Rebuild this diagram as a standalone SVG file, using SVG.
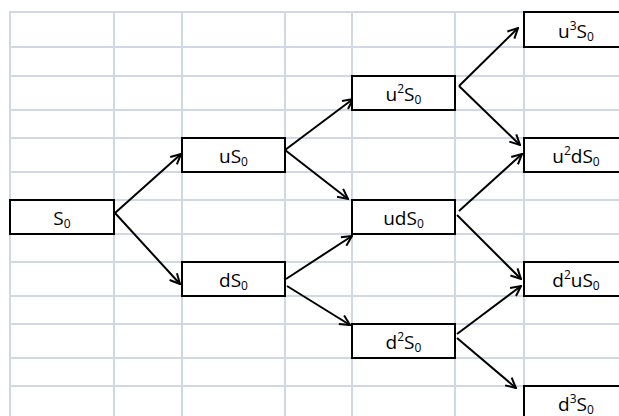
<svg xmlns="http://www.w3.org/2000/svg" width="619" height="416" viewBox="0 0 619 416">
<style>
.grid line{stroke:#D0D7E5;stroke-width:2}
.node rect{fill:#fff;stroke:#000;stroke-width:2}
.node text{font-family:"Open Sans","DejaVu Sans",sans-serif;font-size:19px;fill:#000;text-anchor:middle}
.sm{font-size:12px}
.conn line{stroke:#000;stroke-width:2;marker-end:url(#ah)}
</style>
<defs>
<marker id="ah" viewBox="0 0 12 12" refX="11" refY="6" markerWidth="12" markerHeight="12" markerUnits="userSpaceOnUse" orient="auto">
<path d="M1,1 L11,6 L1,11" fill="none" stroke="#000" stroke-width="2"/>
</marker>
</defs>
<rect width="619" height="416" fill="#fff"/>
<g class="grid">
<line x1="10" y1="12" x2="619" y2="12"/>
<line x1="10" y1="47" x2="619" y2="47"/>
<line x1="10" y1="76" x2="619" y2="76"/>
<line x1="10" y1="110" x2="619" y2="110"/>
<line x1="10" y1="138" x2="619" y2="138"/>
<line x1="10" y1="172" x2="619" y2="172"/>
<line x1="10" y1="200" x2="619" y2="200"/>
<line x1="10" y1="234" x2="619" y2="234"/>
<line x1="10" y1="262" x2="619" y2="262"/>
<line x1="10" y1="296" x2="619" y2="296"/>
<line x1="10" y1="324" x2="619" y2="324"/>
<line x1="10" y1="358" x2="619" y2="358"/>
<line x1="10" y1="386" x2="619" y2="386"/>
<line x1="10" y1="11" x2="10" y2="416"/>
<line x1="114" y1="11" x2="114" y2="416"/>
<line x1="182" y1="11" x2="182" y2="416"/>
<line x1="285" y1="11" x2="285" y2="416"/>
<line x1="352" y1="11" x2="352" y2="416"/>
<line x1="455" y1="11" x2="455" y2="416"/>
<line x1="524" y1="11" x2="524" y2="416"/>
</g>
<g class="conn">
<line x1="115" y1="213" x2="181" y2="154"/>
<line x1="115" y1="213" x2="180" y2="284"/>
<line x1="285" y1="150" x2="353" y2="99"/>
<line x1="285" y1="150" x2="348" y2="199"/>
<line x1="286" y1="279" x2="352" y2="236"/>
<line x1="287" y1="286" x2="350" y2="325"/>
<line x1="459" y1="86" x2="518" y2="28"/>
<line x1="459" y1="86" x2="520" y2="145"/>
<line x1="459" y1="211" x2="522" y2="154"/>
<line x1="457" y1="215" x2="521" y2="279"/>
<line x1="457" y1="334" x2="521" y2="286"/>
<line x1="457" y1="338" x2="516" y2="388"/>
</g>
<g id="n-s0" class="node"><rect x="10" y="200" width="104" height="34"/><text x="62" y="225">S<tspan class="sm" dy="3">0</tspan></text></g>
<g id="n-us0" class="node"><rect x="182" y="138" width="103" height="34"/><text x="233.5" y="163">uS<tspan class="sm" dy="3">0</tspan></text></g>
<g id="n-ds0" class="node"><rect x="182" y="262" width="103" height="34"/><text x="233.5" y="287">dS<tspan class="sm" dy="3">0</tspan></text></g>
<g id="n-u2s0" class="node"><rect x="352" y="76" width="103" height="34"/><text x="403.5" y="101">u<tspan class="sm" dy="-8">2</tspan><tspan dy="8">S</tspan><tspan class="sm" dy="3">0</tspan></text></g>
<g id="n-uds0" class="node"><rect x="352" y="200" width="103" height="34"/><text x="403.5" y="225">udS<tspan class="sm" dy="3">0</tspan></text></g>
<g id="n-d2s0" class="node"><rect x="352" y="324" width="103" height="34"/><text x="403.5" y="349">d<tspan class="sm" dy="-8">2</tspan><tspan dy="8">S</tspan><tspan class="sm" dy="3">0</tspan></text></g>
<g id="n-u3s0" class="node"><rect x="524" y="12" width="104" height="35"/><text x="576" y="38">u<tspan class="sm" dy="-8">3</tspan><tspan dy="8">S</tspan><tspan class="sm" dy="3">0</tspan></text></g>
<g id="n-u2ds0" class="node"><rect x="524" y="138" width="104" height="34"/><text x="576" y="163">u<tspan class="sm" dy="-8">2</tspan><tspan dy="8">dS</tspan><tspan class="sm" dy="3">0</tspan></text></g>
<g id="n-d2us0" class="node"><rect x="524" y="262" width="104" height="34"/><text x="576" y="287">d<tspan class="sm" dy="-8">2</tspan><tspan dy="8">uS</tspan><tspan class="sm" dy="3">0</tspan></text></g>
<g id="n-d3s0" class="node"><rect x="524" y="386" width="104" height="40"/><text x="576" y="411">d<tspan class="sm" dy="-8">3</tspan><tspan dy="8">S</tspan><tspan class="sm" dy="3">0</tspan></text></g>
</svg>
